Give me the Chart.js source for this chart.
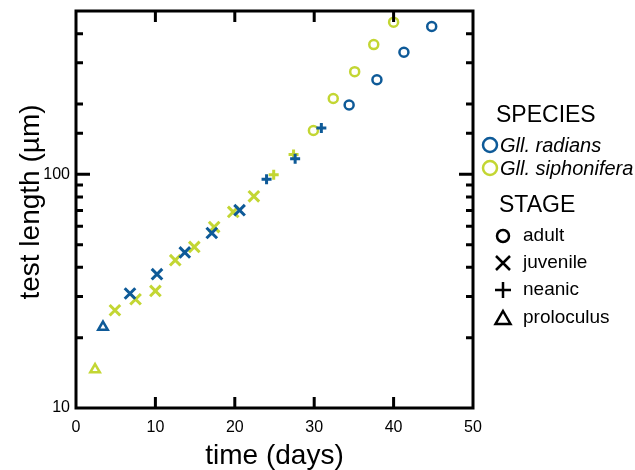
<!DOCTYPE html>
<html>
<head>
<meta charset="utf-8">
<script src="https://cdn.jsdelivr.net/npm/chart.js@4.4.1/dist/chart.umd.min.js"></script>
<style>
  html, body { margin: 0; padding: 0; background: #fff; }
  #wrap { position: relative; width: 635px; height: 470px; }
</style>
</head>
<body>
<div id="wrap"><canvas id="myChart" width="635" height="470"></canvas></div>
<script>
// values
const radiansDays   = [3.4, 6.8, 10.2, 13.7, 17.1, 20.6, 24.0, 27.6, 30.9, 34.4, 37.9, 41.3, 44.8];
const radiansLength = [22.2, 30.9, 37.4, 46.3, 56.1, 70.2, 95.2, 116.7, 158, 198, 254, 333, 429];
const radiansStage  = ['proloculus', 'juvenile', 'juvenile', 'juvenile', 'juvenile', 'juvenile',
                       'neanic', 'neanic', 'neanic', 'adult', 'adult', 'adult', 'adult'];

const siphDays   = [2.4, 4.9, 7.5, 10.0, 12.5, 14.9, 17.4, 19.8, 22.4, 24.9, 27.4, 29.9, 32.4, 35.1, 37.5, 40.0];
const siphLength = [14.6, 26.2, 29.2, 31.7, 42.9, 48.9, 59.5, 69.0, 80.5, 99.6, 121.7, 154, 211, 275, 359, 448];
const siphStage  = ['proloculus', 'juvenile', 'juvenile', 'juvenile', 'juvenile', 'juvenile', 'juvenile',
                    'juvenile', 'juvenile', 'neanic', 'neanic', 'adult', 'adult', 'adult', 'adult', 'adult'];

const stages = ['adult', 'juvenile', 'neanic', 'proloculus'];
const xTicks = [0, 10, 20, 30, 40, 50];
const yLabels = [10, 100];

const BLUE = '#0e5a98';
const GREEN = '#c3d633';
const FONT = '"Liberation Sans", Arial, sans-serif';

const markerStyle = {
  adult:      { pointStyle: 'circle',   pointRadius: 4.5, borderWidth: 2.5 },
  juvenile:   { pointStyle: 'crossRot', pointRadius: 7.5, borderWidth: 3 },
  neanic:     { pointStyle: 'cross',    pointRadius: 5,   borderWidth: 3 },
  proloculus: { pointStyle: 'triangle', pointRadius: 5.5, borderWidth: 2.5 }
};

function makeSets(days, lens, stg, color, name) {
  let out = [];
  stages.forEach((s) => {
    let pts = [];
    for (let i = 0; i < days.length; i++) {
      if (stg[i] == s) pts.push({ x: days[i], y: lens[i] });
    }
    let m = markerStyle[s];
    out.push({
      label: name + ' ' + s,
      data: pts,
      pointStyle: m.pointStyle,
      pointRadius: m.pointRadius,
      pointBorderWidth: m.borderWidth,
      borderColor: color,
      backgroundColor: 'rgba(0,0,0,0)',
      pointBackgroundColor: 'rgba(0,0,0,0)',
      showLine: false
    });
  });
  return out;
}

const datasets = makeSets(radiansDays, radiansLength, radiansStage, BLUE, 'Gll. radians')
  .concat(makeSets(siphDays, siphLength, siphStage, GREEN, 'Gll. siphonifera'));

// box, inward ticks, y title and the legend
const frame = {
  id: 'frame',
  afterDraw(chart) {
    const ctx = chart.ctx;
    const a = chart.chartArea;
    const xs = chart.scales.x;
    const ys = chart.scales.y;
    ctx.save();
    ctx.strokeStyle = '#000';
    ctx.lineWidth = 3;
    ctx.lineCap = 'butt';
    ctx.beginPath();
    xTicks.forEach((v) => {
      if (v == 0 || v == 50) return;
      let px = xs.getPixelForValue(v);
      ctx.moveTo(px, a.bottom); ctx.lineTo(px, a.bottom - 11);
      ctx.moveTo(px, a.top); ctx.lineTo(px, a.top + 11);
    });
    ys.ticks.forEach((t) => {
      let v = t.value;
      if (v <= 10 || v >= 500) return;
      let len = (v == 100) ? 14 : 7;
      let py = ys.getPixelForValue(v);
      ctx.moveTo(a.left, py); ctx.lineTo(a.left + len, py);
      ctx.moveTo(a.right, py); ctx.lineTo(a.right - len, py);
    });
    ctx.stroke();
    ctx.strokeRect(a.left, a.top, a.right - a.left, a.bottom - a.top);

    // y title
    ctx.fillStyle = '#000';
    ctx.save();
    ctx.translate(31, 202);
    ctx.rotate(-Math.PI / 2);
    ctx.textAlign = 'center';
    ctx.textBaseline = 'middle';
    ctx.font = '28px ' + FONT;
    ctx.fillText('test length (µm)', 0, 0);
    ctx.restore();

    // legend
    ctx.textBaseline = 'middle';
    ctx.textAlign = 'left';
    ctx.font = '23px ' + FONT;
    ctx.fillText('SPECIES', 496, 116);
    ctx.fillText('STAGE', 499, 206);

    ctx.lineWidth = 2.5;
    ctx.strokeStyle = BLUE;
    ctx.beginPath(); ctx.arc(490, 145, 7, 0, Math.PI * 2); ctx.stroke();
    ctx.strokeStyle = GREEN;
    ctx.beginPath(); ctx.arc(490, 168, 7, 0, Math.PI * 2); ctx.stroke();
    ctx.font = 'italic 20px ' + FONT;
    ctx.fillText('Gll. radians', 500, 146);
    ctx.fillText('Gll. siphonifera', 500, 169);

    ctx.strokeStyle = '#000';
    ctx.lineWidth = 2.5;
    let sx = 503;
    ctx.beginPath(); ctx.arc(sx, 236, 6, 0, Math.PI * 2); ctx.stroke();
    ctx.beginPath();
    ctx.moveTo(sx - 7, 256); ctx.lineTo(sx + 7, 270);
    ctx.moveTo(sx + 7, 256); ctx.lineTo(sx - 7, 270);
    ctx.moveTo(sx - 8, 290); ctx.lineTo(sx + 8, 290);
    ctx.moveTo(sx, 282); ctx.lineTo(sx, 298);
    ctx.stroke();
    ctx.beginPath();
    ctx.moveTo(sx, 311); ctx.lineTo(sx + 7.5, 324); ctx.lineTo(sx - 7.5, 324); ctx.closePath();
    ctx.stroke();

    ctx.font = '19px ' + FONT;
    ctx.fillText('adult', 523, 236);
    ctx.fillText('juvenile', 523, 263);
    ctx.fillText('neanic', 523, 290);
    ctx.fillText('proloculus', 523, 318);
    ctx.restore();
  }
};

const ctx = document.getElementById('myChart').getContext('2d');
const myChart = new Chart(ctx, {
  type: 'scatter',
  data: { datasets: datasets },
  options: {
    responsive: false,
    animation: false,
    layout: { padding: { left: 0, right: 162, top: 11, bottom: 0 } },
    plugins: { legend: { display: false }, tooltip: { enabled: false } },
    scales: {
      x: {
        type: 'linear',
        min: 0,
        max: 50,
        afterBuildTicks: (s) => { s.ticks = xTicks.map((v) => ({ value: v })); },
        afterFit: (s) => { s.height = 62; s.paddingLeft = 0; s.paddingRight = 0; },
        grid: { display: false, drawTicks: false },
        border: { display: false },
        ticks: { color: '#000', padding: 10, font: { family: FONT, size: 16 } },
        title: { display: true, text: 'time (days)', color: '#000', padding: { top: 0, bottom: -3 },
                 font: { family: FONT, size: 28 } }
      },
      y: {
        type: 'logarithmic',
        min: 10,
        max: 500,
        afterFit: (s) => { s.width = 76; s.paddingTop = 0; s.paddingBottom = 0; },
        grid: { display: false, drawTicks: false },
        border: { display: false },
        ticks: {
          color: '#000', padding: 6, autoSkip: false,
          font: { family: FONT, size: 16 },
          callback: (v) => (yLabels.includes(v) ? String(v) : '')
        },
        title: { display: false }
      }
    }
  },
  plugins: [frame]
});
</script>
</body>
</html>
